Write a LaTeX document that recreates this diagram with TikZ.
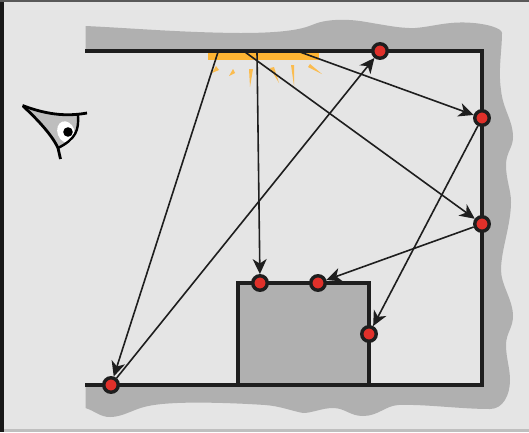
\documentclass[tikz,border=0pt]{standalone}
\usetikzlibrary{arrows.meta}
\definecolor{roomgrey}{HTML}{E5E5E5}
\definecolor{wallgrey}{HTML}{B0B0B0}
\definecolor{eyegrey}{HTML}{BEBEBE}
\definecolor{inkblack}{HTML}{1E1E1E}
\definecolor{lamporange}{HTML}{FFB533}
\definecolor{hitred}{HTML}{E0302A}
\begin{document}
\begin{tikzpicture}[
  x=1pt, y=-1pt,
  wall/.style={draw=inkblack, line width=3.2pt},
  hit/.style={circle, draw=inkblack, fill=hitred, line width=3.4pt, inner sep=0pt, minimum size=14.5pt},
  ray/.style={fill=lamporange!85!roomgrey},
  arrow/.style={-{Stealth[length=15pt,width=14pt,inset=4.5pt]}, draw=inkblack, line width=1.6pt}
]
\useasboundingbox (0,0) rectangle (529,432);
\fill[roomgrey] (0,0) rectangle (529,432);
\fill[black!90] (0,0) rectangle (4,432);
\fill[black!65] (0,0) rectangle (529,2);
\fill[black!25] (4,429) rectangle (529,432);
% wall outline
\fill[wallgrey] (85.5,26) .. controls (130,28) and (180,32.5) .. (240,33)
  .. controls (280,33) and (300,30) .. (312,25) .. controls (325,19) and (345,19) .. (360,21)
  .. controls (385,25) and (400,28.5) .. (415,28) .. controls (430,27) and (445,22) .. (465,22.5)
  .. controls (485,23) and (502,28) .. (502,33) .. controls (502,50) and (498,70) .. (501,90)
  .. controls (503,110) and (513,120) .. (513,137) .. controls (513,148) and (506,152) .. (506,165)
  .. controls (506,180) and (511,190) .. (511,202) .. controls (511,225) and (501,250) .. (501,270)
  .. controls (501,285) and (513,300) .. (513,316) .. controls (513,328) and (506,333) .. (506,345)
  .. controls (506,358) and (510,368) .. (510,380) .. controls (510,395) and (503,409) .. (490,409)
  .. controls (460,409) and (425,404) .. (398,405) .. controls (385,406) and (378,416) .. (363,416)
  .. controls (350,416) and (345,408) .. (333,408) .. controls (322,408) and (312,413) .. (303,413)
  .. controls (292,411) and (280,406) .. (265,405) .. controls (235,403) and (200,402) .. (177,403)
  .. controls (155,404) and (145,406) .. (135,410) .. controls (125,414) and (118,417) .. (110,417)
  .. controls (100,417) and (95,411) .. (85.5,408) -- cycle;
\fill[roomgrey] (85,51) rectangle (482,385);
% lamp
\fill[lamporange] (208,51) rectangle (319,60);
\fill[ray] (212,73) -- (216,66) -- (219,70) -- cycle;
\fill[ray] (229,76) -- (233,69) -- (235,73) -- cycle;
\fill[ray] (250,87) -- (249,69) -- (253,69) -- cycle;
\fill[ray] (279,83) -- (270,68) -- (274,67) -- cycle;
\fill[ray] (294,86) -- (291,65) -- (294,65) -- cycle;
\fill[ray] (322,74) -- (310,64) -- (308,67) -- cycle;
% room and box
\draw[wall, fill=wallgrey] (238,385) -- (238,283) -- (369,283) -- (369,385);
\draw[wall] (85,51) -- (482,51) -- (482,385) -- (85,385);
% eye
\fill[eyegrey] (25,107) .. controls (45,114) and (60,116) .. (78,115) .. controls (79,130) and (76,139) .. (58,148) .. controls (50,132) and (40,120) .. (25,107) -- cycle;
\fill[white, rotate around={20:(66,132)}] (66,132) ellipse (8.5pt and 11pt);
\fill[black] (68,132) circle (4.8pt);
\draw[black, line width=2.8pt] (22.5,105.5) .. controls (45,114) and (65,117) .. (87,113);
\draw[black, line width=2.4pt] (78,115) .. controls (79,130) and (76,139) .. (58,148);
\draw[black, line width=2.8pt] (23,106) .. controls (38,120) and (52,135) .. (58,148) -- (60.5,159);
% hit points
\node[hit] (hitTop) at (380,51) {};
\node[hit] (hitUpper) at (482,118) {};
\node[hit] (hitLower) at (482,224) {};
\node[hit] (hitBoxRight) at (318,283) {};
\node[hit] (hitBoxLeft) at (260,283) {};
\node[hit] (hitBoxSide) at (369,334) {};
\node[hit] (hitFloor) at (111,385) {};
\coordinate (lampA) at (218,52);
\coordinate (lampB) at (245,52);
\coordinate (lampC) at (257,52);
\coordinate (lampD) at (300,52);
\draw[arrow] (lampA) -- (hitFloor);
\draw[arrow] (lampB) -- (hitLower);
\draw[arrow] (lampC) -- (hitBoxLeft);
\draw[arrow] (lampD) -- (hitUpper);
\draw[arrow] (hitFloor) -- (hitTop);
\draw[arrow] (hitUpper) -- (hitBoxSide);
\draw[arrow] (hitLower) -- (hitBoxRight);
\end{tikzpicture}
\end{document}
